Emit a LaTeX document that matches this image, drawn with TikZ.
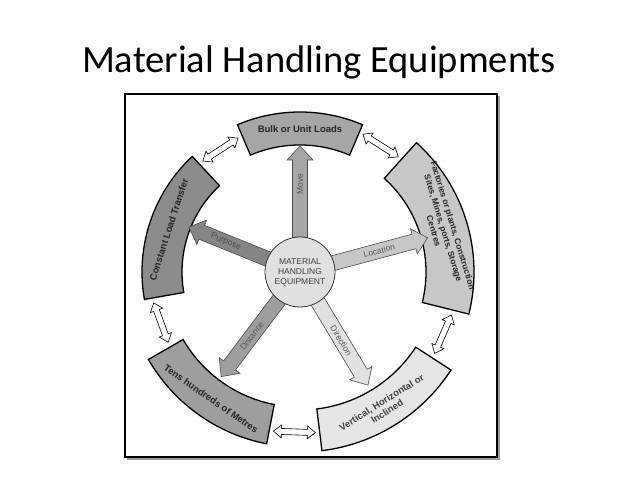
\documentclass[tikz,border=0pt]{standalone}
\usepackage{fontspec}
\setmainfont{Liberation Sans}
\newfontfamily\titlefont{Carlito}
\newcommand\blkarr[4]{\filldraw[draw=black!70,line width=0.6pt,fill=#4,rotate=#1] (#2,-7.5) -- ({#3-14},-7.5) -- ({#3-14},-13) -- (#3,0) -- ({#3-14},13) -- ({#3-14},7.5) -- (#2,7.5) -- cycle;}
\newcommand\dblarr[2]{\begin{scope}[shift={(#1:#2)},rotate={#1+90}]\filldraw[draw=black,fill=white,line width=0.6pt] (-21,0) -- (-13,6.5) -- (-13,3) -- (13,3) -- (13,6.5) -- (21,0) -- (13,-6.5) -- (13,-3) -- (-13,-3) -- (-13,-6.5) -- cycle;\end{scope}}
\begin{document}
\begin{tikzpicture}[x=1pt,y=1pt,
  seg/.style={draw=black,line width=1.3pt},
  segtxt/.style={font=\bfseries\fontsize{9.5}{10.5}\selectfont,align=center,text=black!85},
  albl/.style={font=\fontsize{8.5}{9}\selectfont,text=black!65,inner sep=1pt}]
\useasboundingbox (0,0) rectangle (638,-478);
\fill[white] (0,0) rectangle (638,-478);
\node[font=\titlefont\fontsize{38.5}{44}\selectfont] (title) at (319,-62) {Material Handling Equipments};
\fill[black!40] (127,-96) rectangle (500,-460);
\draw[line width=1.8pt,fill=white] (125,-94) rectangle (497,-457);
\begin{scope}[shift={(300,-272)}]
 % segments
 \draw[seg,fill=black!35] (67:127) arc[start angle=67,end angle=113,radius=127] -- (113:160) arc[start angle=113,end angle=67,radius=160] -- cycle;
 \draw[seg,fill=black!22] (-14:126) arc[start angle=-14,end angle=48,radius=126] -- (48:174) arc[start angle=48,end angle=-14,radius=174] -- cycle;
 \draw[seg,fill=black!45] (133:118) arc[start angle=133,end angle=190,radius=118] -- (190:158) arc[start angle=190,end angle=133,radius=158] -- cycle;
 \draw[seg,fill=black!38] (210:135) arc[start angle=210,end angle=259,radius=135] -- (259:175) arc[start angle=259,end angle=210,radius=175] -- cycle;
 \draw[seg,fill=black!10] (-83:138) arc[start angle=-83,end angle=-33,radius=138] -- (-33:180) arc[start angle=-33,end angle=-83,radius=180] -- cycle;
 \node[segtxt] (bulk) at (90:143) {Bulk or Unit Loads};
 \node[segtxt,rotate=-73,font=\bfseries\fontsize{8.5}{10}\selectfont] (fact) at (17:150) {Factories or plants, Construction\\Sites, Mines, ports, Storage\\Centres};
 \node[segtxt,rotate=72] (clt) at (162:138) {Constant Load Transfer};
 \node[segtxt,rotate=-35] (tens) at (235:155) {Tens hundreds of Metres};
 \node[segtxt,rotate=32,text=black!75] (vert) at (-58:159) {Vertical, Horizontal or\\Inclined};
 % block arrows
 \blkarr{90}{34}{126}{black!35}
 \blkarr{158}{34}{120}{black!48}
 \blkarr{15}{34}{132}{black!22}
 \blkarr{233}{34}{131}{black!38}
 \blkarr{-59}{34}{132}{black!12}
 \node[albl,rotate=90] (lmove) at (90:88) {Move};
 \node[albl,rotate=-22,text=black!70] (lpur) at (158:80) {Purpose};
 \node[albl,rotate=15] (lloc) at (15:82) {Location};
 \node[albl,rotate=53] (ldis) at (233:80) {Distance};
 \node[albl,rotate=-59] (ldir) at (-59:80) {Direction};
 % centre
 \node[circle,draw=black!80,line width=0.8pt,fill=black!12,minimum size=70pt,inner sep=0pt,align=center,font=\fontsize{8.5}{10}\selectfont,text=black!75] (c) at (0,0) {MATERIAL\\HANDLING\\EQUIPMENT};
 % double arrows
 \dblarr{123}{146}
 \dblarr{57.5}{150}
 \dblarr{-23.5}{156}
 \dblarr{-92}{160}
 \dblarr{200}{148}
\end{scope}
\end{tikzpicture}
\end{document}
